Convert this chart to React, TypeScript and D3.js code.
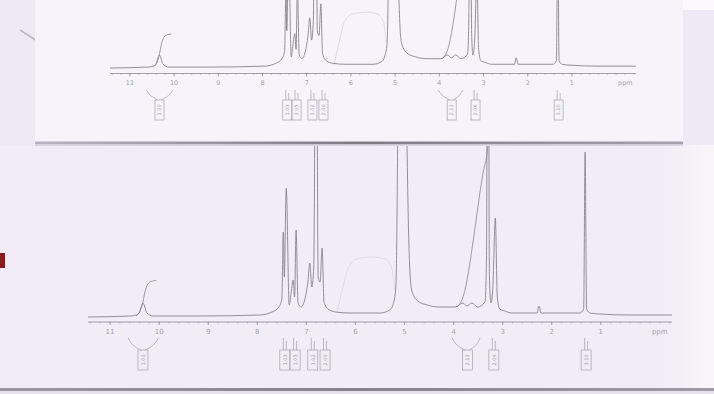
import React, { useMemo } from 'react';
import * as d3 from 'd3';

// Spectrum trace: chemical shift (ppm) and height above baseline (px of lower print)
const tracePpm = [
  11.45, 10.59, 10.47, 10.41, 10.33, 10.25, 10.12, 9.17, 7.95, 7.7, 7.56, 7.5,
  7.47, 7.45, 7.41, 7.35, 7.31, 7.27, 7.24, 7.21, 7.17, 7.11, 7.03, 6.97, 6.93,
  6.89, 6.85, 6.8, 6.76, 6.72, 6.68, 6.64, 6.56, 6.4, 6.11, 5.5, 5.3, 5.22, 5.18,
  5.16, 5.14, 5.04, 4.95, 4.92, 4.89, 4.85, 4.73, 4.54, 4.28, 3.97, 3.81, 3.73,
  3.63, 3.51, 3.36, 3.33, 3.3, 3.27, 3.24, 3.2, 3.15, 3.11, 3.06, 2.96, 2.81,
  2.45, 2.3, 2.26, 2.22, 1.84, 1.43, 1.35, 1.32, 1.29, 1.22, 1.02, 0.41, -0.45,
];
const traceInt = [
  0, 1, 2, 4, 14, 4, 1, 1, 2, 5, 10, 18,
  85, 40, 129, 12, 25, 37, 20, 87, 14, 10, 18, 35, 54,
  30, 50, 420, 40, 35, 69, 15, 8, 5, 4, 4, 7, 15, 28,
  70, 175, 700, 175, 90, 45, 26, 16, 12, 10, 10, 14, 11,
  14, 10, 15, 60, 520, 40, 14, 30, 99, 20, 8, 6, 4,
  4, 4, 11, 4, 4, 4, 8, 165, 8, 4, 3, 2, 2,
];

// integral curves
const coohIntPpm = [10.47, 10.39, 10.33, 10.29, 10.23, 10.14, 10.06];
const coohIntVal = [1, 6, 15, 25, 33, 36, 36.5];
const aliphIntPpm = [3.93, 3.83, 3.4, 3.3, 3.22];
const aliphIntVal = [10, 17, 144, 172, 230];

// faint show-through from the back of the sheet
const ghostPpm = [6.38, 6.27, 6.15, 5.97, 5.66, 5.4, 5.26, 5.2];
const ghostVal = [4, 27, 49, 58, 60, 58, 49, 27];

// axis
const tickPpm = [11, 10, 9, 8, 7, 6, 5, 4, 3, 2, 1];
const tickLabels = ['11', '10', '9', '8', '7', '6', '5', '4', '3', '2', '1'];
const unitLabel = 'ppm';

// integration boxes
const boxPpm = [10.33, 7.44, 7.23, 6.87, 6.62, 3.72, 3.18, 1.3];
const boxValues = ['1.00', '1.03', '1.05', '1.02', '2.00', '2.11', '2.04', '3.10'];
const boxLegLeft = [10.63, null, null, null, null, 4.03, null, null];
const boxLegRight = [10.02, null, null, null, null, 3.46, null, null];

const W = 714;
const H = 394;
const domain: [number, number] = [11.45, -0.45];

const panels = [
  { id: 'lower', x0: 88, x1: 672, base: 317, gain: 1, axisY: 322, labelY: 333.5, font: 7, legTop: 338, boxTop: 350, boxW: 10, boxH: 20, clipTop: 146, clipBottom: 388 },
  { id: 'upper', x0: 110, x1: 636, base: 68, gain: 0.93, axisY: 73.5, labelY: 85, font: 6.4, legTop: 90, boxTop: 100, boxW: 9, boxH: 20, clipTop: 0, clipBottom: 141 },
];

const ink = '#88858f';
const faint = '#a5a2ab';

type Panel = typeof panels[number];

const Spectrum: React.FC<{ p: Panel }> = ({ p }) => {
  const x = d3.scaleLinear().domain(domain).range([p.x0, p.x1]);
  const y = (v: number) => p.base - v * p.gain;
  const mk = (ps: number[], vs: number[]) =>
    d3.line<number>()
      .x((_, i) => x(ps[i]))
      .y((_, i) => y(vs[i]))
      .curve(d3.curveMonotoneX)(ps) || '';
  const minor = d3.range(-0.4, 11.41, 0.2);

  return (
    <g>
      <clipPath id={`clip-${p.id}`}>
        <rect x={0} y={p.clipTop} width={W} height={p.clipBottom - p.clipTop} />
      </clipPath>
      <g clipPath={`url(#clip-${p.id})`}>
        <path d={mk(ghostPpm, ghostVal)} fill="none" stroke="#e0dbe6" strokeWidth={1} />
        <path d={mk(tracePpm, traceInt)} fill="none" stroke={ink} strokeWidth={0.9} />
        <path d={mk(coohIntPpm, coohIntVal)} fill="none" stroke={ink} strokeWidth={0.8} />
        <path d={mk(aliphIntPpm, aliphIntVal)} fill="none" stroke={ink} strokeWidth={0.8} />
      </g>
      {/* axis */}
      <line x1={p.x0} x2={p.x1} y1={p.axisY} y2={p.axisY} stroke={ink} strokeWidth={0.8} />
      {minor.map((t, i) => (
        <line key={i} x1={x(t)} x2={x(t)} y1={p.axisY} y2={p.axisY + 1.5} stroke={faint} strokeWidth={0.6} />
      ))}
      {tickPpm.map((t, i) => (
        <g key={t}>
          <line x1={x(t)} x2={x(t)} y1={p.axisY} y2={p.axisY + 3} stroke={ink} strokeWidth={0.7} />
          <text x={x(t)} y={p.labelY} textAnchor="middle" fontSize={p.font} fill={faint}
            fontFamily="DejaVu Sans, sans-serif">{tickLabels[i]}</text>
        </g>
      ))}
      <text x={x(0) + 2} y={p.labelY} fontSize={p.font} fill={faint} fontFamily="DejaVu Sans, sans-serif">{unitLabel}</text>
      {/* integration marks */}
      {boxPpm.map((b, i) => {
        const cx = x(b);
        const l = boxLegLeft[i];
        const r = boxLegRight[i];
        return (
          <g key={i} stroke={faint} strokeWidth={0.7} fill="none">
            {l != null && r != null ? (
              <>
                <path d={`M${x(l)},${p.legTop} Q${x(l) + 3},${p.boxTop - 4} ${cx - 2},${p.boxTop}`} />
                <path d={`M${x(r)},${p.legTop} Q${x(r) - 3},${p.boxTop - 4} ${cx + 2},${p.boxTop}`} />
              </>
            ) : (
              <>
                <line x1={cx - 1.5} x2={cx - 1.5} y1={p.legTop} y2={p.boxTop} />
                <line x1={cx + 1.5} x2={cx + 1.5} y1={p.legTop + 3} y2={p.boxTop} />
              </>
            )}
            <rect x={cx - p.boxW / 2} y={p.boxTop} width={p.boxW} height={p.boxH} />
            <text x={0} y={0} transform={`translate(${cx + 1.8},${p.boxTop + p.boxH / 2}) rotate(-90)`}
              textAnchor="middle" fontSize={5} fill={faint} stroke="none"
              fontFamily="DejaVu Sans, sans-serif">{boxValues[i]}</text>
          </g>
        );
      })}
    </g>
  );
};

const App: React.FC = () => {
  const [lower, upper] = useMemo(() => panels, []);
  return (
    <div style={{ position: 'absolute', left: 0, top: 0 }}>
      <svg width={W} height={H} viewBox={`0 0 ${W} ${H}`} style={{ display: 'block' }}>
        <defs>
          <linearGradient id="edgeTop" x1="0" x2="1" y1="0" y2="0">
            <stop offset="0" stopColor="#b8b3bf" />
            <stop offset="0.5" stopColor="#7f7c86" />
            <stop offset="1" stopColor="#a7a2ae" />
          </linearGradient>
          <linearGradient id="edgeBottom" x1="0" x2="1" y1="0" y2="0">
            <stop offset="0" stopColor="#9a97a0" />
            <stop offset="0.5" stopColor="#85828b" />
            <stop offset="1" stopColor="#a09ca6" />
          </linearGradient>
          <linearGradient id="rightGlow" x1="0" x2="1" y1="0" y2="0">
            <stop offset="0" stopColor="#ffffff" stopOpacity={0} />
            <stop offset="1" stopColor="#ffffff" stopOpacity={0.5} />
          </linearGradient>
        </defs>
        {/* background and lower sheet */}
        <rect width={W} height={H} fill="#eee9f4" />
        <rect x={0} y={145} width={W} height={243} fill="#f1ecf6" />
        <rect x={660} y={145} width={54} height={243} fill="url(#rightGlow)" />
        <rect x={0} y={388} width={W} height={3} fill="url(#edgeBottom)" />
        <rect x={0} y={391} width={W} height={3} fill="#e6e1ec" />
        <Spectrum p={lower} />
        {/* upper sheet */}
        <rect x={683} y={0} width={31} height={10} fill="#fbf9fd" />
        <path d="M20,30 L37,41" stroke="#bcb8c1" strokeWidth={1.5} />
        <rect x={35} y={-2} width={648} height={144} fill="#f6f3fa" />
        <rect x={35} y={141.5} width={648} height={3} fill="url(#edgeTop)" />
        <rect x={35} y={144.5} width={648} height={1.5} fill="#d9d4df" />
        <Spectrum p={upper} />
        {/* red tab on the left margin */}
        <rect x={0} y={253} width={5} height={15} fill="#8a1c20" />
      </svg>
    </div>
  );
};

export default App;
